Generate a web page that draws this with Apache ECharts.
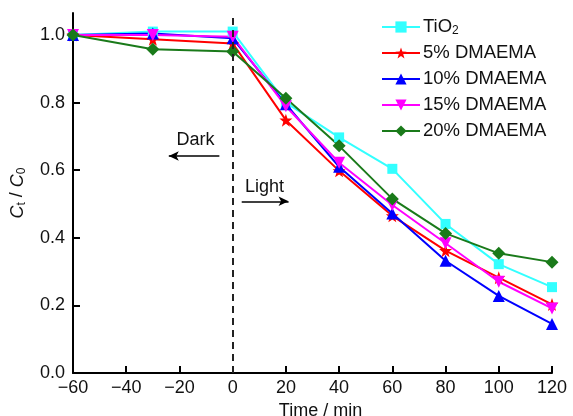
<!DOCTYPE html>
<html>
<head>
<meta charset="utf-8">
<script src="https://cdn.jsdelivr.net/npm/echarts@6/dist/echarts.min.js"></script>
<style>
  html, body { margin: 0; padding: 0; background: #fff; }
  #main { width: 573px; height: 416px; }
</style>
</head>
<body>
<div id="main"></div>
<script>
// time points (min)
var times = [-60, -30, 0, 20, 40, 60, 80, 100, 120];
var tio2   = [1.00, 1.01, 1.01, 0.80, 0.697, 0.604, 0.441, 0.322, 0.254];
var dm5    = [1.00, 0.987, 0.975, 0.748, 0.598, 0.465, 0.362, 0.282, 0.203];
var dm10   = [1.00, 1.004, 0.99, 0.795, 0.610, 0.472, 0.332, 0.228, 0.145];
var dm15   = [1.00, 1.00, 0.995, 0.789, 0.622, 0.497, 0.384, 0.270, 0.191];
var dm20   = [1.00, 0.958, 0.951, 0.813, 0.672, 0.515, 0.413, 0.354, 0.328];
var yTicks = [0, 0.2, 0.4, 0.6, 0.8, 1.0];
var xTicks = [-60, -40, -20, 0, 20, 40, 60, 80, 100, 120];

var starPath = 'path://M0,-10 L2.35,-3.24 L9.51,-3.09 L3.8,1.24 L5.88,8.09 L0,4 L-5.88,8.09 L-3.8,1.24 L-9.51,-3.09 L-2.35,-3.24 Z';
var font = 'Liberation Sans, Arial, sans-serif';

function pairs(vals) {
  return times.map(function (t, i) { return [t, vals[i]]; });
}

function mkSeries(name, vals, color, symbol, size, rotate) {
  return {
    name: name,
    type: 'line',
    data: pairs(vals),
    symbol: symbol,
    symbolSize: size,
    symbolRotate: rotate || 0,
    lineStyle: { color: color, width: 2 },
    itemStyle: { color: color },
    z: 3
  };
}

var series = [
  mkSeries('TiO2', tio2, '#33ffff', 'rect', 10),
  mkSeries('5% DMAEMA', dm5, '#ff0000', starPath, 13),
  mkSeries('10% DMAEMA', dm10, '#0000ff', 'triangle', 12),
  mkSeries('15% DMAEMA', dm15, '#ff00ff', 'triangle', 12, 180),
  mkSeries('20% DMAEMA', dm20, '#1a7a1a', 'diamond', 13)
];

// dark/light divider and arrows
series[0].markLine = {
  silent: true,
  symbol: 'none',
  label: { show: false },
  lineStyle: { color: '#222', type: [7, 5], width: 2 },
  data: [
    { xAxis: 0 },
    [
      { coord: [-5, 0.642], symbol: 'none', lineStyle: { type: 'solid', width: 1.5, color: '#000' } },
      { coord: [-24, 0.642], symbol: 'arrow', symbolSize: [7, 10] }
    ],
    [
      { coord: [3.4, 0.508], symbol: 'none', lineStyle: { type: 'solid', width: 1.5, color: '#000' } },
      { coord: [21, 0.508], symbol: 'arrow', symbolSize: [7, 10] }
    ]
  ]
};
series[0].markPoint = {
  silent: true,
  symbol: 'circle',
  symbolSize: 0,
  label: { show: true, color: '#111', fontSize: 18, fontFamily: font, formatter: '{b}' },
  data: [
    { name: 'Dark', coord: [-14, 0.688] },
    { name: 'Light', coord: [12, 0.55] }
  ]
};

var chart = echarts.init(document.getElementById('main'));
chart.setOption({
  animation: false,
  backgroundColor: '#fff',
  textStyle: { fontFamily: font },
  grid: { left: 73, right: 21, top: 13, bottom: 43, containLabel: false, outerBoundsMode: 'none' },
  legend: {
    orient: 'vertical',
    left: 376,
    top: 12,
    itemWidth: 38,
    itemHeight: 14,
    itemGap: 6,
    textStyle: {
      fontSize: 18.5,
      color: '#111',
      lineHeight: 20,
      padding: [0, 0, 0, -2],
      rich: {
        a: { fontSize: 18.5, color: '#111' },
        s: { fontSize: 12, color: '#111', verticalAlign: 'bottom', padding: [9, 0, 0, 0] }
      }
    },
    formatter: function (n) {
      if (n === 'TiO2') return '{a|TiO}{s|2}';
      return n;
    },
    data: series.map(function (s) { return s.name; })
  },
  xAxis: {
    type: 'value',
    min: -60,
    max: 120,
    interval: 20,
    name: 'Time / min',
    nameLocation: 'middle',
    nameGap: 25,
    nameTextStyle: { fontSize: 18, color: '#111', fontFamily: font, padding: [0, 0, 0, 16] },
    axisLine: { onZero: false, lineStyle: { color: '#000', width: 2 } },
    axisTick: { inside: true, length: 7, lineStyle: { color: '#000', width: 2 }, customValues: xTicks },
    axisLabel: {
      fontSize: 18, color: '#111', margin: 6, customValues: xTicks,
      formatter: function (v) { return String(v).replace('-', '\u2212'); }
    },
    splitLine: { show: false }
  },
  yAxis: {
    type: 'value',
    min: 0,
    max: 1.065,
    name: '{i|C}{s|t}{n| / }{i|C}{s|0}',
    nameLocation: 'middle',
    nameGap: 45,
    nameTextStyle: {
      fontSize: 18, color: '#111', fontFamily: font,
      rich: {
        i: { fontSize: 18, fontStyle: 'italic', color: '#111' },
        n: { fontSize: 18, color: '#111' },
        s: { fontSize: 12, color: '#111', verticalAlign: 'bottom', padding: [9, 0, 0, 0] }
      }
    },
    axisLine: { show: true, onZero: false, lineStyle: { color: '#000', width: 2 } },
    axisTick: { show: true, inside: true, length: 7, lineStyle: { color: '#000', width: 2 }, customValues: yTicks },
    axisLabel: {
      fontSize: 18, color: '#111', margin: 8, customValues: yTicks,
      formatter: function (v) { return v.toFixed(1); }
    },
    splitLine: { show: false }
  },
  series: series
});
</script>
</body>
</html>
